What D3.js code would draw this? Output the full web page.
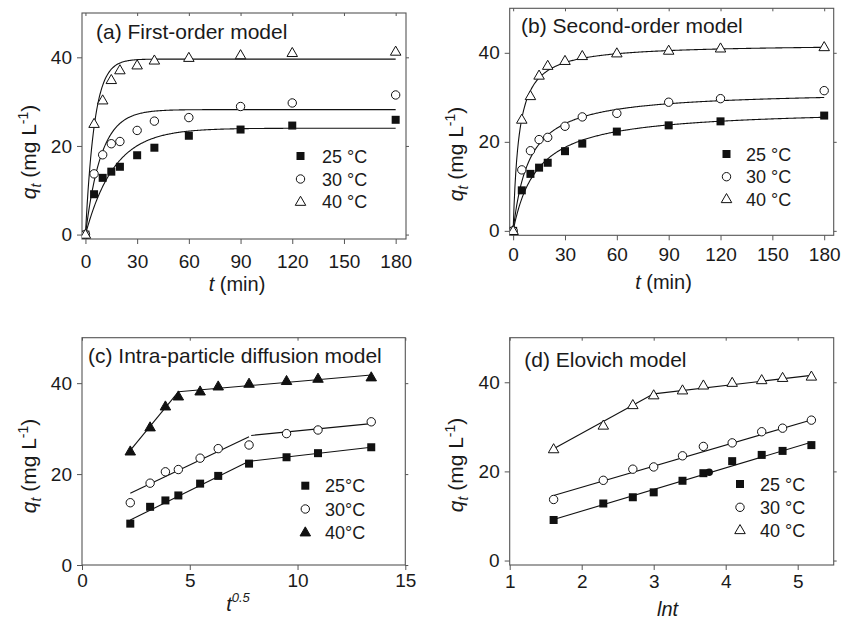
<!DOCTYPE html>
<html><head><meta charset="utf-8">
<script src="https://cdn.jsdelivr.net/npm/d3@7"></script>
<style>
body{margin:0;background:#fff}
svg{display:block}
text{font-family:"Liberation Sans",Arial,Helvetica,sans-serif;fill:#1a1a1a}
</style>
</head><body>
<svg id="chart" width="843" height="621"></svg>
<script>
// ---------------- data ----------------
const timeMin  = [0, 5, 10, 15, 20, 30, 40, 60, 90, 120, 180];
const sqrtTime = [2.24, 3.16, 3.87, 4.47, 5.48, 6.32, 7.75, 9.49, 10.95, 13.42];
const lnTime   = [1.61, 2.30, 2.71, 3.00, 3.40, 3.69, 4.09, 4.50, 4.79, 5.19];
const q25 = [0, 9.1, 12.8, 14.2, 15.3, 17.9, 19.6, 22.3, 23.7, 24.6, 25.9];
const q30 = [0, 13.7, 18.0, 20.5, 21.0, 23.5, 25.6, 26.4, 28.9, 29.7, 31.5];
const q40 = [0, 25.0, 30.3, 34.9, 37.1, 38.2, 39.3, 39.9, 40.5, 41.0, 41.3];
const legendLabels  = ["25 °C", "30 °C", "40 °C"];
const legendLabelsC = ["25°C", "30°C", "40°C"];
// fitted model parameters (qe in mg/L, k)
const firstOrderQe  = [24.0, 28.2, 39.6];
const firstOrderK   = [0.060, 0.110, 0.190];
const secondOrderQe = [27.5, 31.5, 42.0];
const secondOrderK  = [0.0026, 0.00343, 0.00714];
// fitted straight segments [x1, y1, x2, y2]
const ipdFit25 = [[2.24, 9.9, 7.75, 22.8], [7.75, 22.8, 13.42, 25.9]];
const ipdFit30 = [[2.24, 15.8, 7.75, 28.2], [7.85, 28.5, 13.42, 31.1]];
const ipdFit40 = [[2.24, 25.2, 4.47, 38.1], [4.47, 38.1, 13.42, 41.8]];
const elovichFit25 = [[1.61, 9.2, 5.20, 26.6]];
const elovichFit30 = [[1.61, 14.6, 5.20, 31.6]];
const elovichFit40 = [[1.61, 25.1, 3.00, 37.4], [3.00, 37.4, 5.22, 41.6]];
const elovichExtra25 = [[3.77, 19.8]];
// tick labels
const xTicksTime = [0, 30, 60, 90, 120, 150, 180];
const xTicksSqrt = [0, 5, 10, 15];
const xTicksLn   = [1, 2, 3, 4, 5];
const yTicks     = [0, 20, 40];
const titles = ["(a) First-order model", "(b) Second-order model",
                "(c) Intra-particle diffusion model", "(d) Elovich model"];

// ---------------- drawing ----------------
const svg = d3.select("#chart");
const FRAME = "#555";

function marker(g, type, x, y) {
  if (type === "square") {
    g.append("rect").attr("x", x - 4).attr("y", y - 4).attr("width", 8).attr("height", 8)
      .attr("fill", "#111");
  } else if (type === "circle") {
    g.append("circle").attr("cx", x).attr("cy", y).attr("r", 4.2)
      .attr("fill", "#fff").attr("stroke", "#111").attr("stroke-width", 1);
  } else {
    const s = 10.5, h = s * 0.866;
    const filled = type === "triFilled";
    g.append("path")
      .attr("d", `M${x},${y - h * 0.6}L${x + s / 2},${y + h * 0.4}L${x - s / 2},${y + h * 0.4}Z`)
      .attr("fill", filled ? "#111" : "#fff").attr("stroke", "#111").attr("stroke-width", 1);
  }
}

function panel(cfg) {
  const [L, T, R, B] = cfg.rect;
  const x = d3.scaleLinear().domain(cfg.xd).range([L, R]);
  const y = d3.scaleLinear().domain(cfg.yd).range([B, T]);
  const g = svg.append("g");

  g.append("g").attr("transform", `translate(0,${B})`)
    .call(d3.axisBottom(x).tickValues(cfg.xt).tickSize(5).tickPadding(cfg.xPad).tickFormat(d3.format("d")));
  g.append("g").attr("transform", `translate(${L},0)`)
    .call(d3.axisLeft(y).tickValues(yTicks).tickSize(5).tickPadding(5).tickFormat(d3.format("d")));
  g.append("g").attr("transform", `translate(0,${T})`)
    .call(d3.axisTop(x).tickValues(cfg.xt).tickSize(-3).tickFormat(""));
  g.append("g").attr("transform", `translate(${R},0)`)
    .call(d3.axisRight(y).tickValues(yTicks).tickSize(3).tickFormat(""));
  g.selectAll(".domain").remove();
  g.selectAll(".tick line").attr("stroke", FRAME);
  g.selectAll(".tick text").attr("font-size", 19).attr("fill", "#1a1a1a")
    .attr("font-family", '"Liberation Sans",Arial,sans-serif');
  g.append("rect").attr("x", L).attr("y", T).attr("width", R - L).attr("height", B - T)
    .attr("fill", "none").attr("stroke", FRAME).attr("stroke-width", 1.1);

  g.append("text").attr("x", cfg.titlePos[0]).attr("y", cfg.titlePos[1])
    .attr("font-size", 21).text(cfg.title);

  const yl = g.append("text").attr("font-size", 21).attr("text-anchor", "middle")
    .attr("transform", `translate(${L - 46.5},${cfg.yLabelY}) rotate(-90)`);
  yl.append("tspan").attr("font-style", "italic").text("q");
  yl.append("tspan").attr("font-style", "italic").attr("font-size", 14).attr("dy", 5).text("t");
  yl.append("tspan").attr("dy", -5).text(" (mg L");
  yl.append("tspan").attr("font-size", 14).attr("dy", -8).text("-1");
  yl.append("tspan").attr("dy", 8).text(")");

  const xl = g.append("text").attr("font-size", 20).attr("text-anchor", "middle")
    .attr("x", cfg.xLabelPos[0]).attr("y", cfg.xLabelPos[1]);
  cfg.xLabel(xl);

  const clipId = "clip" + cfg.title.charAt(1);
  svg.append("clipPath").attr("id", clipId).append("rect")
    .attr("x", L).attr("y", T).attr("width", R - L).attr("height", B - T);
  const plot = g.append("g").attr("clip-path", `url(#${clipId})`);

  const line = d3.line().x(d => x(d[0])).y(d => y(d[1]));
  cfg.curves.forEach(c => {
    plot.append("path").attr("d", line(c)).attr("fill", "none")
      .attr("stroke", "#111").attr("stroke-width", 1.1);
  });
  cfg.series.forEach(s => {
    s.xs.forEach((xv, i) => marker(plot, s.type, x(xv), y(s.ys[i])));
  });
  (cfg.extra || []).forEach(p => {
    plot.append("circle").attr("cx", x(p[0])).attr("cy", y(p[1])).attr("r", 3.8).attr("fill", "#111");
  });

  cfg.legend.types.forEach((t, i) => {
    const ly = cfg.legend.y[i];
    marker(g, t, cfg.legend.mx, ly);
    g.append("text").attr("x", cfg.legend.tx).attr("y", ly + 6.5)
      .attr("font-size", 18).text(cfg.legend.labels[i]);
  });
}

function modelCurve(fn) {
  const ts = d3.range(0, 180.5, 0.5);
  return ts.map(t => [t, fn(t)]);
}
const firstOrderCurves = firstOrderQe.map((qe, i) =>
  modelCurve(t => qe * (1 - Math.exp(-firstOrderK[i] * t))));
const secondOrderCurves = secondOrderQe.map((qe, i) =>
  modelCurve(t => qe * qe * secondOrderK[i] * t / (1 + qe * secondOrderK[i] * t)));
const segs = arr => arr.map(s => [[s[0], s[1]], [s[2], s[3]]]);

const tLabel = sel => {
  sel.append("tspan").attr("font-style", "italic").text("t");
  sel.append("tspan").text(" (min)");
};

panel({
  title: titles[0], rect: [82, 13, 406, 239], xd: [-2, 186], yd: [-1, 50], xt: xTicksTime, xPad: 11,
  titlePos: [96, 38.5], yLabelY: 152, xLabelPos: [237, 291], xLabel: tLabel,
  curves: firstOrderCurves,
  series: [
    {xs: timeMin, ys: q25, type: "square"},
    {xs: timeMin, ys: q30, type: "circle"},
    {xs: timeMin, ys: q40, type: "tri"}],
  legend: {types: ["square", "circle", "tri"], mx: 300.5, tx: 322, y: [156, 179, 201.7], labels: legendLabels}
});

panel({
  title: titles[1], rect: [509.7, 8.3, 833.7, 235.3], xd: [-2, 185.5], yd: [-1, 50], xt: xTicksTime, xPad: 7.5,
  titlePos: [521, 32.5], yLabelY: 154, xLabelPos: [663.5, 289], xLabel: tLabel,
  curves: secondOrderCurves,
  series: [
    {xs: timeMin, ys: q25, type: "square"},
    {xs: timeMin, ys: q30, type: "circle"},
    {xs: timeMin, ys: q40, type: "tri"}],
  legend: {types: ["square", "circle", "tri"], mx: 726.5, tx: 746, y: [154, 176.7, 199], labels: legendLabels}
});

panel({
  title: titles[2], rect: [82, 337.7, 405.3, 565], xd: [0, 15], yd: [0, 50], xt: xTicksSqrt, xPad: 3.5,
  titlePos: [88, 363.3], yLabelY: 466, xLabelPos: [238, 611],
  xLabel: sel => {
    sel.append("tspan").attr("font-style", "italic").text("t");
    sel.append("tspan").attr("font-style", "italic").attr("font-size", 13).attr("dy", -9).text("0.5");
  },
  curves: [...segs(ipdFit25), ...segs(ipdFit30), ...segs(ipdFit40)],
  series: [
    {xs: sqrtTime, ys: q25.slice(1), type: "square"},
    {xs: sqrtTime, ys: q30.slice(1), type: "circle"},
    {xs: sqrtTime, ys: q40.slice(1), type: "triFilled"}],
  legend: {types: ["square", "circle", "triFilled"], mx: 305.3, tx: 325, y: [485.7, 509, 532.3], labels: legendLabelsC}
});

panel({
  title: titles[3], rect: [509.7, 337.7, 833.7, 565], xd: [1, 5.5], yd: [-1, 50], xt: xTicksLn, xPad: 5,
  titlePos: [524.3, 366.7], yLabelY: 465, xLabelPos: [667.5, 616],
  xLabel: sel => sel.append("tspan").attr("font-style", "italic").text("lnt"),
  curves: [...segs(elovichFit25), ...segs(elovichFit30), ...segs(elovichFit40)],
  series: [
    {xs: lnTime, ys: q25.slice(1), type: "square"},
    {xs: lnTime, ys: q30.slice(1), type: "circle"},
    {xs: lnTime, ys: q40.slice(1), type: "tri"}],
  extra: elovichExtra25,
  legend: {types: ["square", "circle", "tri"], mx: 740, tx: 760, y: [484, 507.3, 530], labels: legendLabels}
});
</script>
</body></html>
